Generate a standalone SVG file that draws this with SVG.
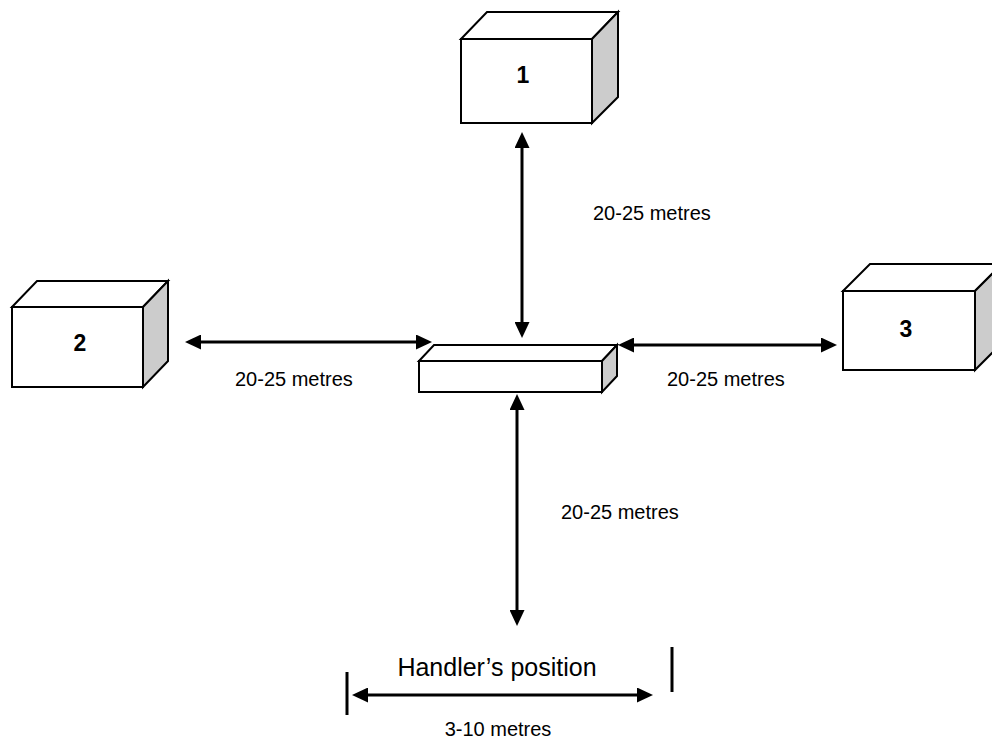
<svg xmlns="http://www.w3.org/2000/svg" width="992" height="742" viewBox="0 0 992 742">
<style>
.face{fill:#ffffff;stroke:#000;stroke-width:2;stroke-linejoin:miter}
.side{fill:#cccccc;stroke:#000;stroke-width:2;stroke-linejoin:miter}
.num{font-family:"Liberation Sans",Arial,sans-serif;font-weight:bold;font-size:23px;text-anchor:middle;fill:#000}
.lbl{font-family:"Liberation Sans",Arial,sans-serif;font-size:20px;fill:#000}
.big{font-family:"Liberation Sans",Arial,sans-serif;font-size:25px;fill:#000;text-anchor:middle}
.arr{stroke:#000;stroke-width:3;fill:none;marker-start:url(#ah);marker-end:url(#ah)}
.tick{stroke:#000;stroke-width:3}
</style>
<defs>
<marker id="ah" markerUnits="userSpaceOnUse" markerWidth="16" markerHeight="15" refX="6" refY="7.5" orient="auto-start-reverse" viewBox="0 0 16 15">
<path d="M0,0 L16,7.5 L0,15 z" fill="#000"/>
</marker>
</defs>
<rect width="992" height="742" fill="#fff"/>
<g id="box1">
<polygon class="face" points="461,39 487,12 618,12 592,39"/>
<polygon class="side" points="592,39 618,12 618,97 592,123"/>
<rect class="face" x="461" y="39" width="131" height="84"/>
<text class="num" x="523" y="83">1</text>
</g>
<g id="box2">
<polygon class="face" points="12,307 37,281 168,281 143,307"/>
<polygon class="side" points="143,307 168,281 168,361 143,387"/>
<rect class="face" x="12" y="307" width="131" height="80"/>
<text class="num" x="80" y="351">2</text>
</g>
<g id="box3">
<polygon class="face" points="843,291 870,264 1002,264 975,291"/>
<polygon class="side" points="975,291 1002,264 1002,343 975,370"/>
<rect class="face" x="843" y="291" width="132" height="79"/>
<text class="num" x="906" y="337">3</text>
</g>
<g id="platform">
<polygon class="face" points="419,361 434,345 617,345 602,361"/>
<polygon class="side" points="602,361 617,345 617,376 602,392"/>
<rect class="face" x="419" y="361" width="183" height="31"/>
</g>
<g id="connectors">
<line class="arr" x1="522" y1="142" x2="522" y2="328"/>
<line class="arr" x1="195" y1="342" x2="422" y2="342"/>
<line class="arr" x1="628" y1="345" x2="827" y2="345"/>
<line class="arr" x1="517" y1="404" x2="517" y2="616"/>
<line class="arr" x1="362" y1="695" x2="643" y2="695"/>
<line class="tick" x1="347" y1="672" x2="347" y2="715"/>
<line class="tick" x1="672" y1="647" x2="672" y2="692"/>
</g>
<g id="labels">
<text class="lbl" x="593" y="220">20-25 metres</text>
<text class="lbl" x="235" y="386">20-25 metres</text>
<text class="lbl" x="667" y="386">20-25 metres</text>
<text class="lbl" x="561" y="519">20-25 metres</text>
<text class="big" x="497" y="676">Handler’s position</text>
<text class="lbl" x="498" y="736" text-anchor="middle">3-10 metres</text>
</g>
</svg>
